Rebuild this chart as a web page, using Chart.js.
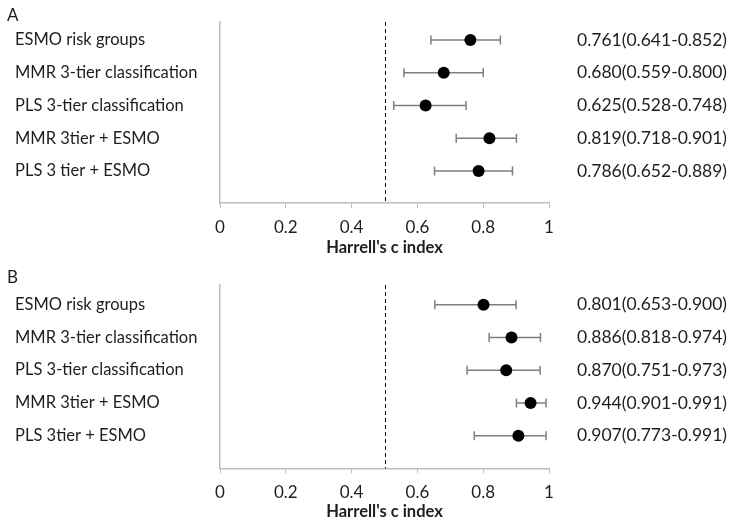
<!DOCTYPE html>
<html><head><meta charset="utf-8">
<script src="https://cdn.jsdelivr.net/npm/chart.js@4/dist/chart.umd.min.js"></script>
<style>
html,body{margin:0;padding:0;background:#fff;width:737px;height:528px;overflow:hidden;}
canvas{position:absolute;left:0;}
#ca{top:0;} #cb{top:264px;}
</style>
</head><body>
<canvas id="ca" width="737" height="264"></canvas>
<canvas id="cb" width="737" height="264"></canvas>
<script>
// ---- data ----
const categoriesA = ["ESMO risk groups", "MMR 3-tier classification", "PLS 3-tier classification", "MMR 3tier + ESMO", "PLS 3 tier + ESMO"];
const estimateA = [0.761, 0.680, 0.625, 0.819, 0.786];
const lowerA    = [0.641, 0.559, 0.528, 0.718, 0.652];
const upperA    = [0.852, 0.800, 0.748, 0.901, 0.889];

const categoriesB = ["ESMO risk groups", "MMR 3-tier classification", "PLS 3-tier classification", "MMR 3tier + ESMO", "PLS 3tier + ESMO"];
const estimateB = [0.801, 0.886, 0.870, 0.944, 0.907];
const lowerB    = [0.653, 0.818, 0.751, 0.901, 0.773];
const upperB    = [0.900, 0.974, 0.973, 0.991, 0.991];

const xTicks = [0, 0.2, 0.4, 0.6, 0.8, 1];
const referenceValue = 0.5;
const axisTitle = "Harrell's c index";

// ---- styling ----
const FONT = "Lato, 'Open Sans', sans-serif";
const TEXT = '#1e1e1e';
const AXIS = '#bdbdbd';
const BAR = '#7f7f7f';

function ciLabel(e, l, u) {
  return e.toFixed(3) + '(' + l.toFixed(3) + '-' + u.toFixed(3) + ')';
}

const forestPlugin = {
  id: 'forest',
  beforeDatasetsDraw(chart) {
    const o = chart.options.plugins.forest;
    const {ctx, chartArea, scales: {x, y}} = chart;
    ctx.save();
    const rx = Math.round(x.getPixelForValue(o.ref)) + 0.5;
    ctx.strokeStyle = '#000';
    ctx.lineWidth = 1;
    ctx.setLineDash([4, 3]);
    ctx.beginPath(); ctx.moveTo(rx, chartArea.top); ctx.lineTo(rx, chartArea.bottom); ctx.stroke();
    ctx.setLineDash([]);
    ctx.strokeStyle = BAR;
    ctx.lineWidth = 1.5;
    o.lower.forEach((lo, i) => {
      const py = y.getPixelForValue(i + 1);
      const x1 = x.getPixelForValue(lo), x2 = x.getPixelForValue(o.upper[i]);
      ctx.beginPath();
      ctx.moveTo(x1, py); ctx.lineTo(x2, py);
      ctx.moveTo(x1, py - 4.5); ctx.lineTo(x1, py + 4.5);
      ctx.moveTo(x2, py - 4.5); ctx.lineTo(x2, py + 4.5);
      ctx.stroke();
    });
    ctx.restore();
  },
  afterDraw(chart) {
    const o = chart.options.plugins.forest;
    const ctx = chart.ctx;
    ctx.save();
    ctx.fillStyle = TEXT;
    ctx.font = "17px " + FONT;
    ctx.textBaseline = 'middle';
    ctx.textAlign = 'left';
    ctx.fillText(o.letter, 7, o.letterY);
    ctx.restore();
  }
};

function zeroPad(a) { a.paddingTop = 0; a.paddingBottom = 0; a.paddingLeft = 0; a.paddingRight = 0; }

function makeChart(id, cats, est, lo, up, letter, yMin, yMax, padTop, letterY) {
  const rows = cats.map((c, i) => i + 1);
  const areaH = (yMax - yMin) * 32.75;
  return new Chart(document.getElementById(id), {
    type: 'scatter',
    data: {
      datasets: [{
        data: est.map((v, i) => ({x: v, y: rows[i]})),
        backgroundColor: '#000', borderColor: '#000',
        pointRadius: 6, pointHoverRadius: 6, borderWidth: 0
      }]
    },
    options: {
      responsive: false, animation: false, events: [],
      layout: {padding: {left: 15, right: 0, top: padTop, bottom: 0}},
      plugins: {
        legend: {display: false}, tooltip: {enabled: false},
        forest: {ref: referenceValue, lower: lo, upper: up, letter: letter, letterY: letterY}
      },
      scales: {
        x: {
          type: 'linear', min: 0, max: 1,
          afterBuildTicks: a => { a.ticks = xTicks.map(v => ({value: v})); },
          afterFit: a => { a.height = 264 - padTop - areaH; zeroPad(a); },
          ticks: {color: TEXT, font: {family: FONT, size: 17}, padding: 9, callback: v => String(v)},
          grid: {display: true, drawOnChartArea: false, drawTicks: true, tickLength: 5, color: AXIS, lineWidth: 1},
          border: {display: true, color: AXIS, width: 1.5},
          title: {display: true, text: axisTitle, color: TEXT, font: {family: FONT, size: 16.5, weight: 'bold'}, padding: {top: 0, bottom: 6}}
        },
        y: {
          type: 'linear', position: 'left', reverse: true, min: yMin, max: yMax,
          afterBuildTicks: a => { a.ticks = rows.map(v => ({value: v})); },
          afterFit: a => { a.width = 205; zeroPad(a); },
          ticks: {color: TEXT, font: {family: FONT, size: 16.5}, crossAlign: 'far', callback: v => cats[v - 1] || ''},
          grid: {display: false, drawTicks: false},
          border: {display: true, color: AXIS, width: 1.5}
        },
        y2: {
          type: 'linear', position: 'right', reverse: true, min: yMin, max: yMax,
          afterBuildTicks: a => { a.ticks = rows.map(v => ({value: v})); },
          afterFit: a => { a.width = 188; zeroPad(a); },
          ticks: {color: TEXT, font: {family: FONT, size: 17.5}, crossAlign: 'near', padding: 28,
                  callback: v => (v >= 1 && v <= 5) ? ciLabel(est[v - 1], lo[v - 1], up[v - 1]) : ''},
          grid: {display: false, drawTicks: false},
          border: {display: false}
        }
      }
    },
    plugins: [forestPlugin]
  });
}

makeChart('ca', categoriesA, estimateA, lowerA, upperA, 'A', 0.45, 5.98, 22, 16);
makeChart('cb', categoriesB, estimateB, lowerB, upperB, 'B', 0.4, 6.0, 21, 14);
</script>
</body></html>
